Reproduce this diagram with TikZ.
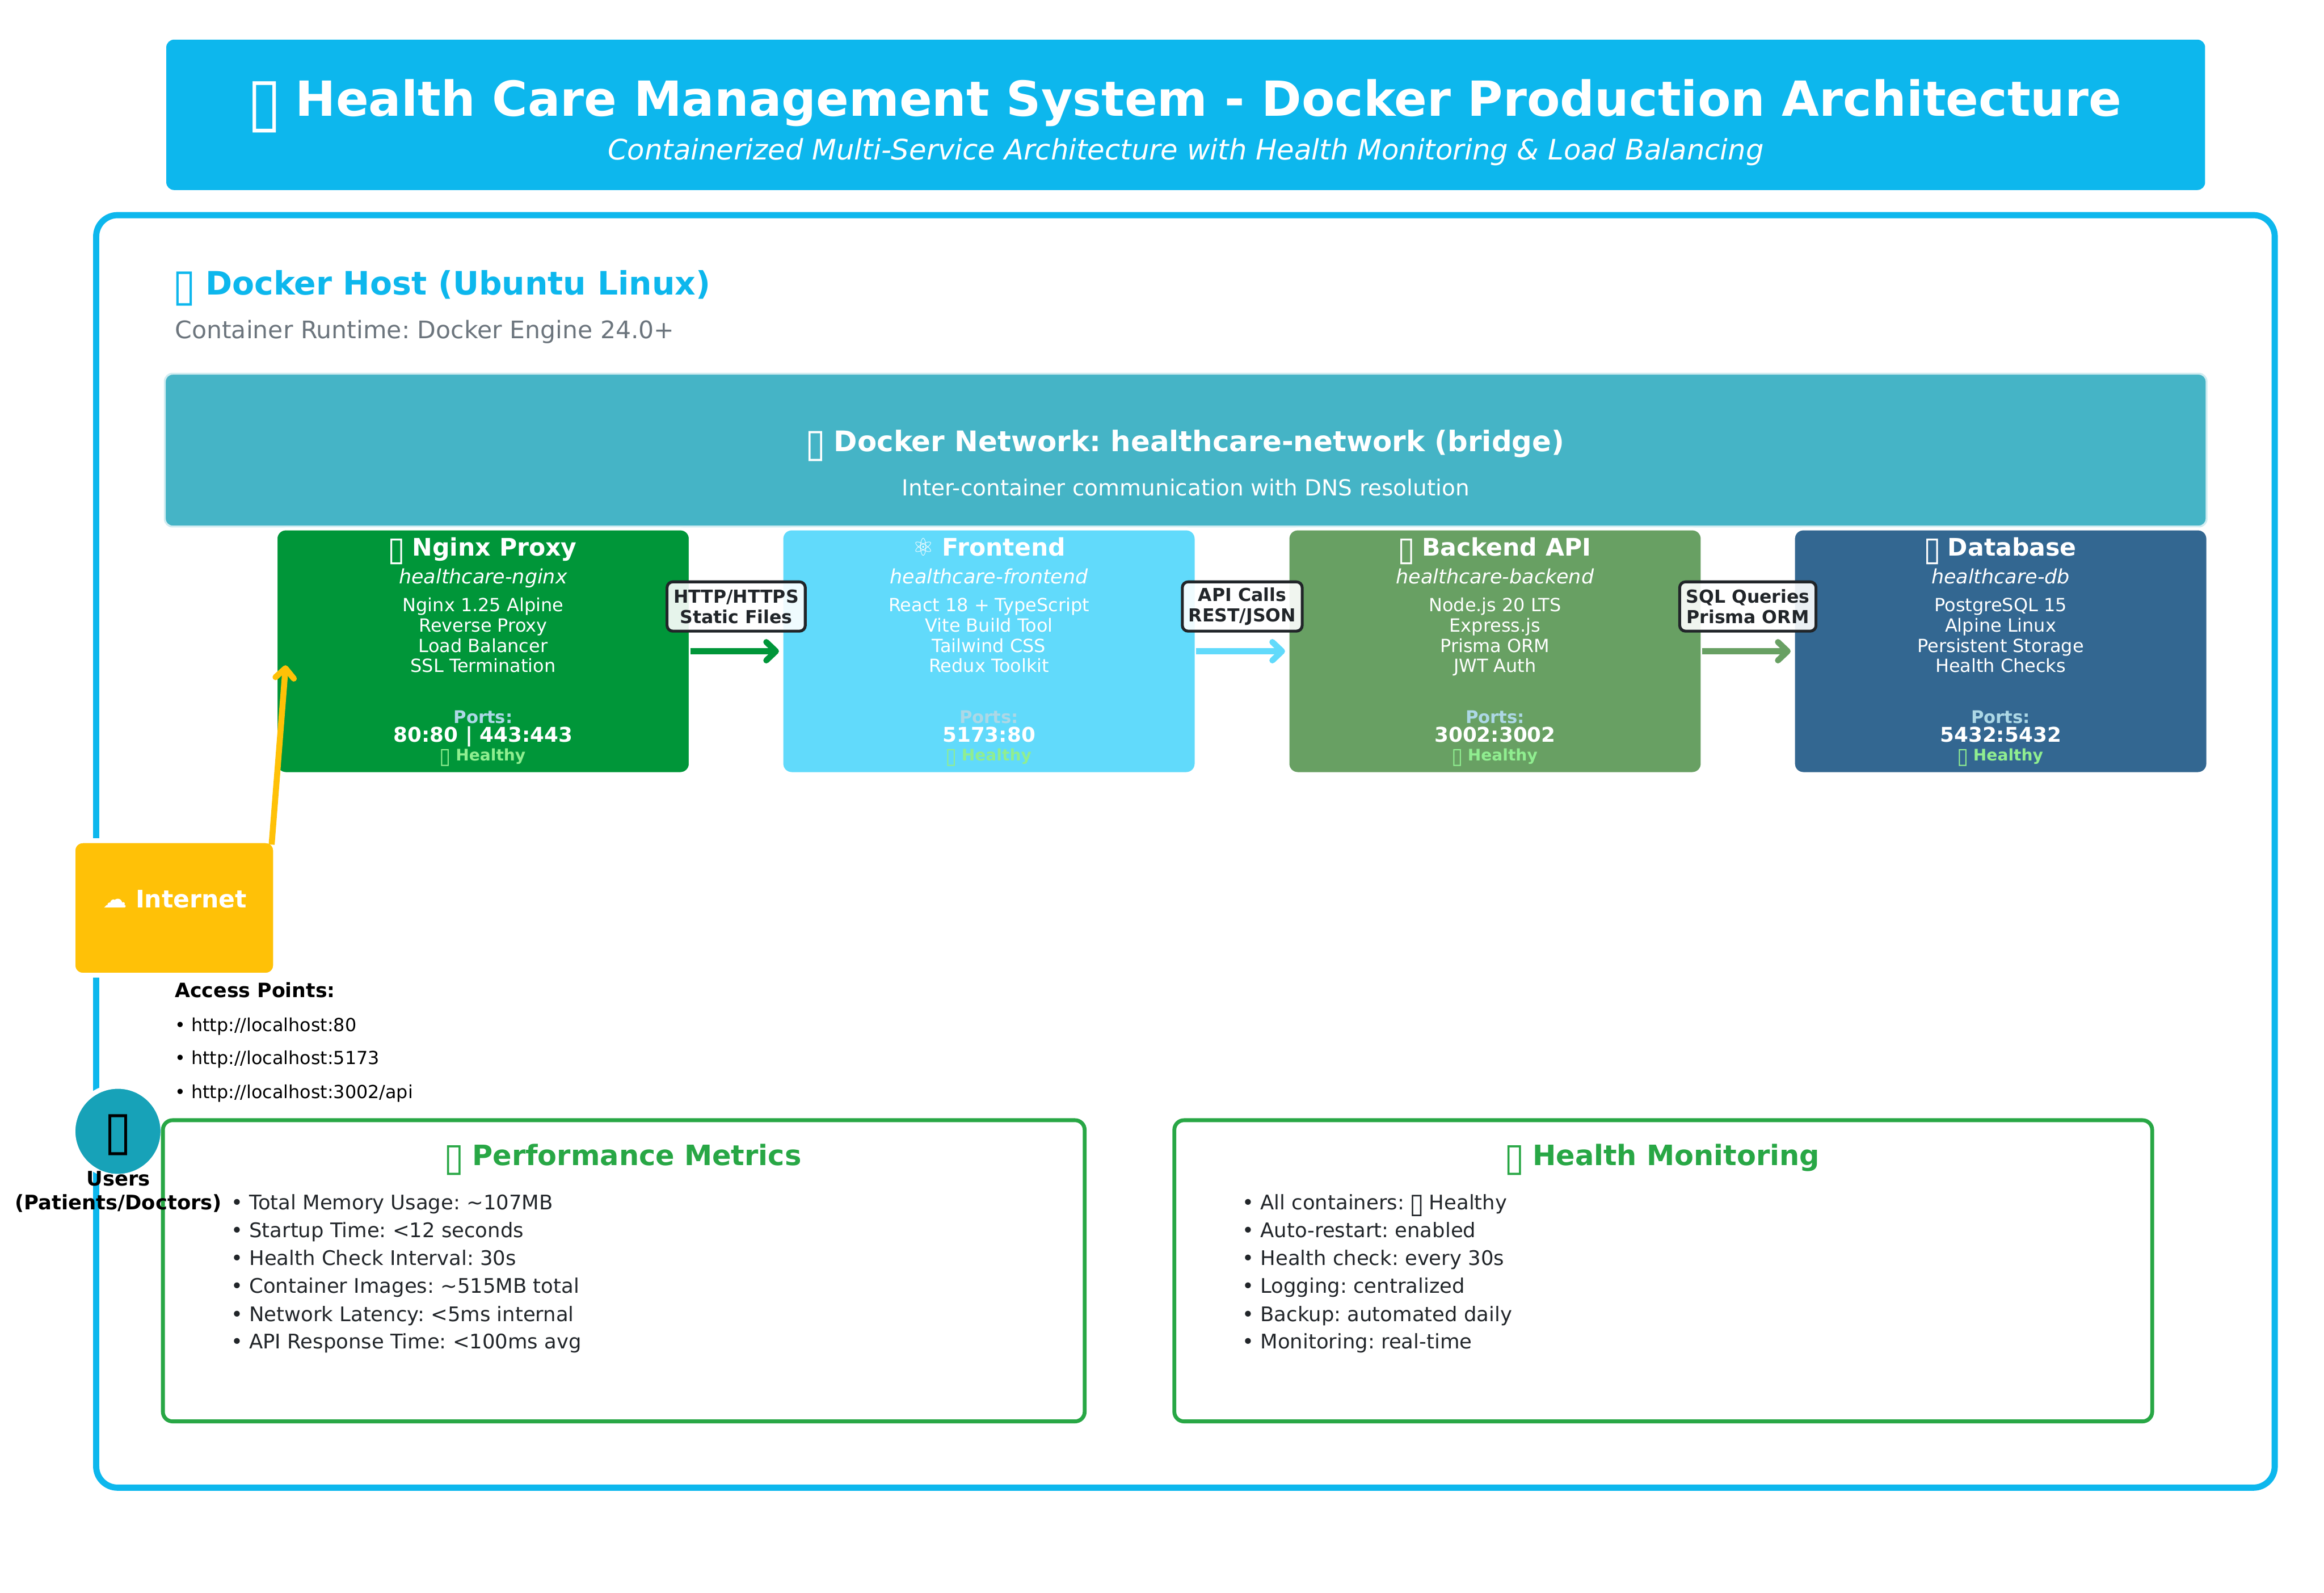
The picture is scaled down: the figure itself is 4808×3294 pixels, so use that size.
\documentclass[tikz,border=0pt]{standalone}
\usepackage{fontspec}
\usepackage{xfp}
\usepackage{graphicx}
\setmainfont{DejaVu Sans}
\newfontfamily\plainf{DejaVu Sans}
\frenchspacing
\usetikzlibrary{arrows.meta}
\definecolor{docker}{HTML}{0DB7ED}
\definecolor{netfill}{HTML}{45B4C6}
\definecolor{netedge}{HTML}{D1ECF1}
\definecolor{ngx}{HTML}{009639}
\definecolor{fe}{HTML}{61DAFB}
\definecolor{be}{HTML}{68A063}
\definecolor{dbc}{HTML}{336791}
\definecolor{inet}{HTML}{FFC107}
\definecolor{usr}{HTML}{17A2B8}
\definecolor{okgreen}{HTML}{28A745}
\definecolor{ink}{HTML}{212529}
\definecolor{muted}{HTML}{6C757D}
\definecolor{lblue}{HTML}{ADD8E6}
\definecolor{lgreen}{HTML}{90EE90}
\newcommand{\fs}[1]{\fontsize{\fpeval{#1*0.25}}{\fpeval{#1*0.285}}\selectfont}
\newcommand{\tofu}{\makebox[.6em]{\raisebox{-.18em}{\resizebox{.72em}{.89em}{\plainf\mdseries\upshape ▯}}}}
\tikzset{
  x=0.25pt,y=-0.25pt,
  txt/.style={inner sep=0pt,outer sep=0pt,anchor=base},
  ltxt/.style={inner sep=0pt,outer sep=0pt,anchor=base west},
  box/.style={rectangle,inner sep=0pt,outer sep=0pt,rounded corners=4pt},
  ctr/.style={box,draw=white,line width=1.5pt,rounded corners=5pt,minimum width=214.25pt,minimum height=126.5pt},
  lab/.style={box,draw=ink,line width=1.5pt,fill=white,fill opacity=.9,text opacity=1,rounded corners=3pt,
    align=center,text=ink,font=\fs{37}\bfseries,minimum height=25.5pt},
  flow/.style={line width=3.1pt,-{Straight Barb[length=5pt,width=9.5pt,round]},shorten >=1.5pt},
  panel/.style={box,draw=okgreen,line width=2pt,fill=white,rounded corners=5pt},
  ptitle/.style={txt,text=okgreen,font=\fs{58}\bfseries},
  item/.style={ltxt,text=ink,font=\fs{41.6}},
}
% id, centre x, fill, title, name, four lines
\newcommand{\container}[9]{%
  \node[ctr,fill=#3] (#1) at (#2,1347) {};
  \node[txt,text=white,font=\fs{50}\bfseries] (#1-title) at (#2,1150) {#4};
  \node[txt,text=white,font=\fs{41}\itshape] (#1-name) at (#2,1207) {#5};
  \node[txt,text=white,font=\fs{37.5}] (#1-a) at (#2,1265) {#6};
  \node[txt,text=white,font=\fs{37.5}] (#1-b) at (#2,1307) {#7};
  \node[txt,text=white,font=\fs{37.5}] (#1-c) at (#2,1349) {#8};
  \node[txt,text=white,font=\fs{37.5}] (#1-d) at (#2,1390) {#9};
}
\newcommand{\portlines}[3]{%
  \node[txt,text=lblue,font=\fs{36}\bfseries] (#1-pl) at (#2,1496) {Ports:};
  \node[txt,text=white,font=\fs{42}\bfseries] (#1-p) at (#2,1535) {#3};
  \node[txt,text=lgreen,font=\fs{33}\bfseries] (#1-h) at (#2,1573) {\tofu{} Healthy};
}
\begin{document}
\begin{tikzpicture}
\useasboundingbox (0,0) rectangle (4808,3294);
% host
\node[box,draw=docker,line width=3.2pt,fill=white,rounded corners=11pt,minimum width=1126.75pt,minimum height=658pt] (host) at (2452.5,1761) {};
% title
\node[box,fill=docker,minimum width=1054.5pt,minimum height=77.75pt] (titlebox) at (2453,237.5) {};
\node[txt,text=white,font=\fs{100}\bfseries] (title) at (2453,240) {\tofu{} Health Care Management System - Docker Production Architecture};
\node[txt,text=white,font=\fs{58.3}\itshape] (subtitle) at (2453,330) {Containerized Multi-Service Architecture with Health Monitoring \& Load Balancing};
\node[ltxt,text=docker,font=\fs{66.7}\bfseries] (hosttitle) at (362,610) {\tofu{} Docker Host (Ubuntu Linux)};
\node[ltxt,text=muted,font=\fs{50}] (hostsub) at (362,700) {Container Runtime: Docker Engine 24.0+};
% network
\node[box,draw=netedge,line width=1pt,fill=netfill,minimum width=1056pt,minimum height=79pt] (net) at (2453,931) {};
\node[txt,text=white,font=\fs{58.6}\bfseries] (nettitle) at (2453,934) {\tofu{} Docker Network: healthcare-network (bridge)};
\node[txt,text=white,font=\fs{45.8}] (netsub) at (2453,1025) {Inter-container communication with DNS resolution};
% containers
\container{ngx}{999.5}{ngx}{\tofu{} Nginx Proxy}{healthcare-nginx}{Nginx 1.25 Alpine}{Reverse Proxy}{Load Balancer}{SSL Termination}
\portlines{ngx}{999.5}{80:80 | 443:443}
\container{fe}{2046}{fe}{{\plainf ⚛} Frontend}{healthcare-frontend}{React 18 + TypeScript}{Vite Build Tool}{Tailwind CSS}{Redux Toolkit}
\portlines{fe}{2046}{5173:80}
\container{be}{3093}{be}{\tofu{} Backend API}{healthcare-backend}{Node.js 20 LTS}{Express.js}{Prisma ORM}{JWT Auth}
\portlines{be}{3093}{3002:3002}
\container{db}{4139}{dbc}{\tofu{} Database}{healthcare-db}{PostgreSQL 15}{Alpine Linux}{Persistent Storage}{Health Checks}
\portlines{db}{4139}{5432:5432}
% flows
\draw[flow,draw=ngx] (ngx) -- (fe);
\draw[flow,draw=fe] (fe) -- (be);
\draw[flow,draw=be] (be) -- (db);
\node[lab,minimum width=71.5pt] (l1) at (1523,1254.5) {HTTP/HTTPS\\Static Files};
\node[lab,minimum width=62pt] (l2) at (2570,1254.5) {API Calls\\REST/JSON};
\node[lab,minimum width=70.5pt] (l3) at (3616,1254.5) {SQL Queries\\Prisma ORM};
% internet
\node[box,draw=white,line width=2.5pt,rounded corners=5pt,fill=inet,minimum width=104.75pt,minimum height=69.5pt] (inetbox) at (360.5,1878) {};
\node[txt,text=white,font=\fs{50}\bfseries] (inetlabel) at (362,1878) {☁ Internet};
\draw[flow,draw=inet,shorten >=0pt] ([xshift=-2pt,yshift=-2pt]inetbox.north east) -- ([xshift=5pt,yshift=56pt]ngx.south west);
% access
\node[ltxt,text=black,font=\fs{40.8}\bfseries] (ap) at (362,2063) {Access Points:};
\node[ltxt,text=black,font=\fs{37.3}] (ap1) at (362,2133) {• http://localhost:80};
\node[ltxt,text=black,font=\fs{37.3}] (ap2) at (362,2202) {• http://localhost:5173};
\node[ltxt,text=black,font=\fs{37.3}] (ap3) at (362,2272) {• http://localhost:3002/api};
% users
\node[circle,draw=white,line width=2.5pt,fill=usr,inner sep=0pt,outer sep=0pt,minimum size=46.5pt] (users) at (244,2340) {};
\node[txt,text=black,font=\fs{80}] (usericon) at (244,2362) {\tofu};
% panels
\node[panel,minimum width=476.75pt,minimum height=155.75pt] (perf) at (1290.5,2628.5) {};
\node[panel,minimum width=505.75pt,minimum height=155.75pt] (mon) at (3441,2628.5) {};
\node[txt,text=black,font=\fs{41.5}\bfseries] (ul1) at (245,2453) {Users};
\node[txt,text=black,font=\fs{41.5}\bfseries] (ul2) at (245,2502) {(Patients/Doctors)};
\node[ptitle] (perft) at (1290,2410) {\tofu{} Performance Metrics};
\node[ptitle] (mont) at (3440,2410) {\tofu{} Health Monitoring};
\node[item] (p1) at (478,2502) {• Total Memory Usage: \textasciitilde 107MB};
\node[item] (p2) at (478,2559) {• Startup Time: <12 seconds};
\node[item] (p3) at (478,2617) {• Health Check Interval: 30s};
\node[item] (p4) at (478,2675) {• Container Images: \textasciitilde 515MB total};
\node[item] (p5) at (478,2733) {• Network Latency: <5ms internal};
\node[item] (p6) at (478,2790) {• API Response Time: <100ms avg};
\node[item] (m1) at (2570,2502) {• All containers: \tofu{} Healthy};
\node[item] (m2) at (2570,2559) {• Auto-restart: enabled};
\node[item] (m3) at (2570,2617) {• Health check: every 30s};
\node[item] (m4) at (2570,2675) {• Logging: centralized};
\node[item] (m5) at (2570,2733) {• Backup: automated daily};
\node[item] (m6) at (2570,2790) {• Monitoring: real-time};
\end{tikzpicture}
\end{document}
